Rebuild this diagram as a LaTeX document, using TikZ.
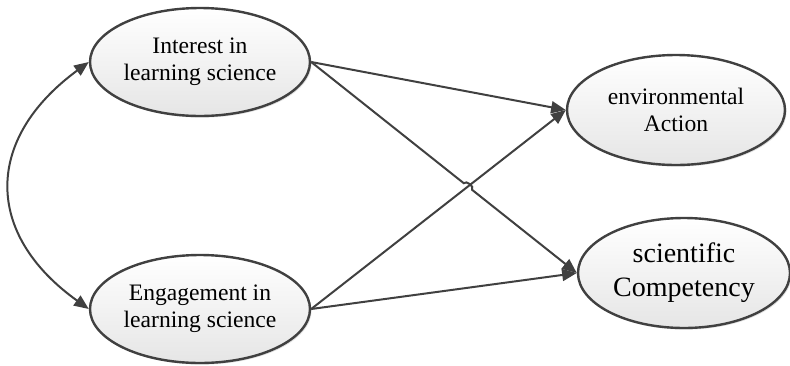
\documentclass[tikz,border=0pt]{standalone}
\usepackage{fontspec}
\setmainfont{Liberation Serif}
\usetikzlibrary{shapes.geometric,arrows.meta,shadows,calc,intersections}
\definecolor{edge}{HTML}{404040}
\tikzset{
  latent/.style={ellipse, draw=edge, line width=1.8pt, inner sep=0pt,
    top color=white, bottom color=black!10,
    drop shadow={opacity=0.25, shadow xshift=1.2pt, shadow yshift=-1.2pt},
    align=center, font=\fontsize{17.7}{20.5}\selectfont},
  conn/.style={draw=edge, line width=1.5pt, -{Triangle[length=11pt,width=9pt]}},
  dconn/.style={draw=edge, line width=1.5pt, {Triangle[length=11pt,width=9pt]}-{Triangle[length=11pt,width=9pt]}}
}
\begin{document}
\begin{tikzpicture}[x=0.75pt, y=-0.75pt]
\useasboundingbox (0,0) rectangle (790,365);
\node[latent, minimum width=165pt, minimum height=81pt] (int) at (200,62) {Interest in\\learning science};
\node[latent, minimum width=165pt, minimum height=81pt] (eng) at (200,309) {Engagement in\\learning science};
\node[latent, minimum width=163.5pt, minimum height=82.5pt] (env) at (676,110) {environmental\\Action};
\node[latent, minimum width=159pt, minimum height=82.5pt, font=\fontsize{21}{25.5}\selectfont] (sci) at (684,273) {scientific\\Competency};

\draw[dconn] (int.west) .. controls (-16,139) and (-16,234) .. (eng.west);
\draw[conn] (int.east) -- (env.west);
\draw[conn] (eng.east) -- (sci.west);
\draw[conn, name path=pB] (eng.east) -- (env.west);
\path[name path=pA] (int.east) -- (sci.west);
\path[name intersections={of=pA and pB, by=X}];
\draw[conn] (int.east) -- ($(X)!4pt!(int.east)$) to[bend left=90] ($(X)!4pt!(sci.west)$) -- (sci.west);
\end{tikzpicture}
\end{document}
